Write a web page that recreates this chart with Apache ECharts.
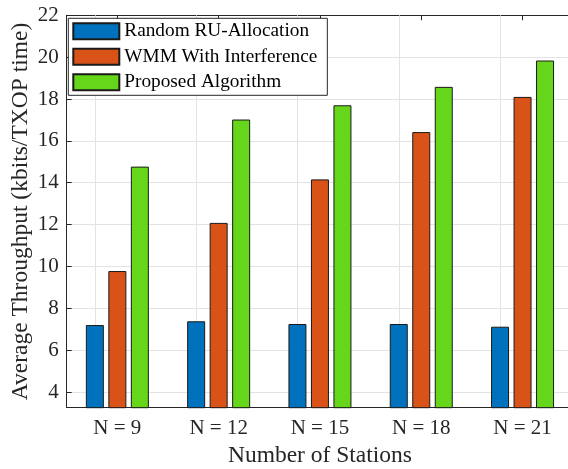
<!DOCTYPE html>
<html>
<head>
<meta charset="utf-8">
<script src="https://cdn.jsdelivr.net/npm/echarts@6/dist/echarts.min.js"></script>
<style>
html,body{margin:0;padding:0;background:#fff;}
#chart{width:568px;height:469px;}
</style>
</head>
<body>
<div id="chart"></div>
<script>
const categories = ['N = 9', 'N = 12', 'N = 15', 'N = 18', 'N = 21'];
const randomRU = [7.20, 7.38, 7.25, 7.25, 7.12];
const wmmInterference = [9.78, 12.08, 14.16, 16.42, 18.10];
const proposed = [14.77, 17.02, 17.70, 18.58, 19.84];
const yTicks = [4, 6, 8, 10, 12, 14, 16, 18, 20, 22];
const seriesNames = ['Random RU-Allocation', 'WMM With Interference', 'Proposed Algorithm'];

const FONT = '"Liberation Serif", "Times New Roman", serif';
const TXT = '#262626';

const chart = echarts.init(document.getElementById('chart'), null, {renderer: 'canvas'});

function barSeries(name, data, color, extra) {
  return Object.assign({
    name: name,
    type: 'bar',
    data: data,
    barWidth: 18,
    barGap: '25%',
    z: 3,
    itemStyle: {color: color, borderColor: '#1a1a1a', borderWidth: 1}
  }, extra || {});
}

chart.setOption({
  animation: false,
  textStyle: {fontFamily: FONT},
  grid: {left: 66.7, top: 15.3, width: 506.5, bottom: 61.3, containLabel: false, outerBoundsMode: 'none'},
  legend: {
    left: 68.3, top: 18.3,
    orient: 'vertical',
    data: seriesNames,
    itemWidth: 46, itemHeight: 16, itemGap: 6.5,
    padding: [3.5, 10, 3.5, 4],
    backgroundColor: '#fff',
    borderColor: TXT, borderWidth: 1, borderRadius: 0,
    textStyle: {fontFamily: FONT, fontSize: 19.3, color: '#000'},
    icon: 'rect'
  },
  xAxis: [{
    type: 'category',
    data: categories,
    position: 'bottom',
    name: 'Number of Stations',
    nameLocation: 'middle',
    nameGap: 36,
    nameTextStyle: {fontFamily: FONT, fontSize: 23.5, color: TXT},
    axisLine: {show: true, lineStyle: {color: TXT, width: 1}},
    axisTick: {show: true, inside: true, alignWithLabel: true, length: 5, lineStyle: {color: TXT}},
    axisLabel: {fontFamily: FONT, fontSize: 21, color: TXT, margin: 10},
    splitLine: {show: false}
  }, {
    type: 'category',
    data: categories,
    position: 'top',
    axisLine: {show: true, lineStyle: {color: TXT, width: 1}},
    axisTick: {show: true, inside: true, alignWithLabel: true, length: 5, lineStyle: {color: TXT}},
    axisLabel: {show: false},
    splitLine: {show: false}
  }],
  yAxis: {
    type: 'value',
    min: 3.25, max: 22,
    name: 'Average Throughput (kbits/TXOP time)',
    nameLocation: 'middle',
    nameGap: 34,
    nameMoveOverlap: false,
    nameTextStyle: {fontFamily: FONT, fontSize: 23.5, color: TXT},
    axisLine: {show: true, lineStyle: {color: TXT, width: 1}},
    axisTick: {show: true, inside: true, length: 5, customValues: yTicks, lineStyle: {color: TXT}},
    axisLabel: {fontFamily: FONT, fontSize: 21, color: TXT, margin: 8, customValues: yTicks},
    splitLine: {show: true, lineStyle: {color: '#e3e3e3', width: 1}}
  },
  series: [
    barSeries(seriesNames[0], randomRU, '#0072BD', {
      markLine: {
        silent: true,
        symbol: 'none',
        z: 1,
        animation: false,
        label: {show: false},
        emphasis: {disabled: true},
        lineStyle: {color: '#e3e3e3', width: 1, type: 'solid'},
        data: categories.map(c => ({xAxis: c}))
      }
    }),
    barSeries(seriesNames[1], wmmInterference, '#D95319'),
    barSeries(seriesNames[2], proposed, '#66D61A')
  ]
});
</script>
</body>
</html>
